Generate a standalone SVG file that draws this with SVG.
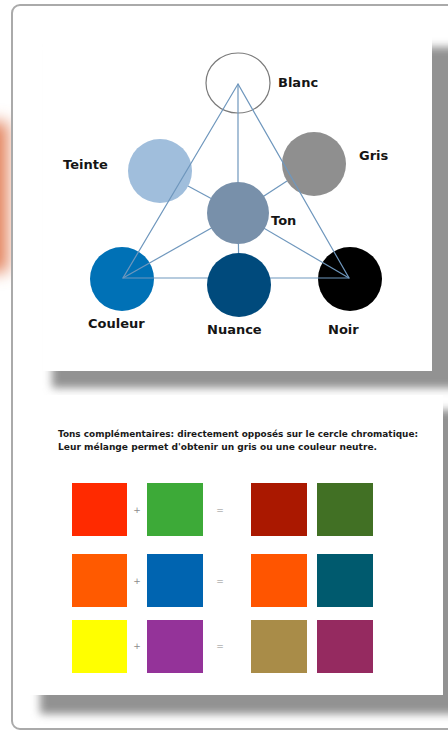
<svg xmlns="http://www.w3.org/2000/svg" width="448" height="731" viewBox="0 0 448 731">
  <defs>
    <filter id="blur4" x="-20%" y="-20%" width="140%" height="140%">
      <feGaussianBlur stdDeviation="4"/>
    </filter>
    <filter id="blur8" x="-100%" y="-50%" width="300%" height="200%">
      <feGaussianBlur stdDeviation="8"/>
    </filter>
    <style>
      .lbl { font-family: "DejaVu Sans", "Liberation Sans", sans-serif; font-weight: bold; font-size: 13px; fill: #151515; }
      .note { font-family: "DejaVu Sans", "Liberation Sans", sans-serif; font-weight: bold; font-size: 8.5px; fill: #1a1a1a; }
      .op { font-family: "DejaVu Sans", "Liberation Sans", sans-serif; font-size: 9px; fill: #8a8a8a; text-anchor: middle; }
      .conn { stroke: #6f97bd; stroke-width: 1.2; fill: none; }
      .shadow { fill: #929292; filter: url(#blur4); }
    </style>
  </defs>

  <rect x="0" y="0" width="448" height="731" fill="#ffffff"/>

  <!-- orange side glow -->
  <rect x="-30" y="122" width="38" height="150" fill="#e3845f" filter="url(#blur8)"/>

  <!-- outer frame -->
  <rect x="12" y="5" width="460" height="724" rx="8" ry="8" fill="#ffffff" stroke="#aaaaaa" stroke-width="2"/>

  <!-- panel 1 -->
  <rect class="shadow" x="52" y="47" width="420" height="341"/>
  <rect x="43" y="30" width="389" height="341" fill="#ffffff"/>

  <!-- panel 2 -->
  <rect class="shadow" x="40" y="410" width="430" height="304"/>
  <rect x="28" y="395" width="415" height="300" fill="#ffffff"/>

  <!-- nodes below connectors -->
  <g id="node-blanc">
    <ellipse cx="238" cy="83" rx="32" ry="30" fill="none" stroke="#7a7a7a" stroke-width="1.2"/>
    <text class="lbl" x="278" y="87">Blanc</text>
  </g>
  <g id="node-teinte">
    <circle cx="160" cy="171" r="32" fill="#a0bedc"/>
    <text class="lbl" x="63" y="169">Teinte</text>
  </g>
  <g id="node-gris">
    <circle cx="314" cy="164" r="32" fill="#8f8f8f"/>
    <text class="lbl" x="359" y="160">Gris</text>
  </g>
  <g id="node-couleur">
    <circle cx="122" cy="279" r="32" fill="#0071b6"/>
    <text class="lbl" x="88" y="328">Couleur</text>
  </g>
  <g id="node-noir">
    <circle cx="350" cy="279" r="32" fill="#000000"/>
    <text class="lbl" x="328" y="334">Noir</text>
  </g>

  <g id="connectors">
    <polygon class="conn" points="238,84 123,278 349,278"/>
    <line class="conn" x1="238" y1="84" x2="238" y2="213"/>
    <line class="conn" x1="238" y1="213" x2="123" y2="278"/>
    <line class="conn" x1="238" y1="213" x2="349" y2="278"/>
    <line class="conn" x1="238" y1="213" x2="239" y2="285"/>
    <line class="conn" x1="238" y1="213" x2="188" y2="186"/>
    <line class="conn" x1="238" y1="213" x2="287" y2="181"/>
  </g>

  <!-- nodes above connectors -->
  <g id="node-ton">
    <circle cx="238" cy="213" r="31" fill="#7890aa"/>
    <text class="lbl" x="271" y="225">Ton</text>
  </g>
  <g id="node-nuance">
    <circle cx="239" cy="285" r="32" fill="#004a7c"/>
    <text class="lbl" x="207" y="334">Nuance</text>
  </g>

  <!-- panel 2 content -->
  <g id="caption">
    <text class="note" x="58" y="437" textLength="360" lengthAdjust="spacingAndGlyphs">Tons complémentaires: directement opposés sur le cercle chromatique:</text>
    <text class="note" x="58" y="450" textLength="319" lengthAdjust="spacingAndGlyphs">Leur mélange permet d'obtenir un gris ou une couleur neutre.</text>
  </g>

  <g id="row1">
    <rect x="72" y="483" width="55" height="53" fill="#ff2a00"/>
    <text class="op" x="137" y="513">+</text>
    <rect x="147" y="483" width="56" height="53" fill="#3daa38"/>
    <text class="op" x="220" y="513">=</text>
    <rect x="251" y="483" width="56" height="53" fill="#aa1800"/>
    <rect x="317" y="483" width="56" height="53" fill="#417024"/>
  </g>
  <g id="row2">
    <rect x="72" y="554" width="55" height="53" fill="#ff5a00"/>
    <text class="op" x="137" y="584">+</text>
    <rect x="147" y="554" width="56" height="53" fill="#0064b0"/>
    <text class="op" x="220" y="584">=</text>
    <rect x="251" y="554" width="56" height="53" fill="#ff5500"/>
    <rect x="317" y="554" width="56" height="53" fill="#005a6e"/>
  </g>
  <g id="row3">
    <rect x="72" y="620" width="55" height="53" fill="#ffff00"/>
    <text class="op" x="137" y="649">+</text>
    <rect x="147" y="620" width="56" height="53" fill="#943399"/>
    <text class="op" x="220" y="649">=</text>
    <rect x="251" y="620" width="56" height="53" fill="#a98c48"/>
    <rect x="317" y="620" width="56" height="53" fill="#952a60"/>
  </g>
</svg>
